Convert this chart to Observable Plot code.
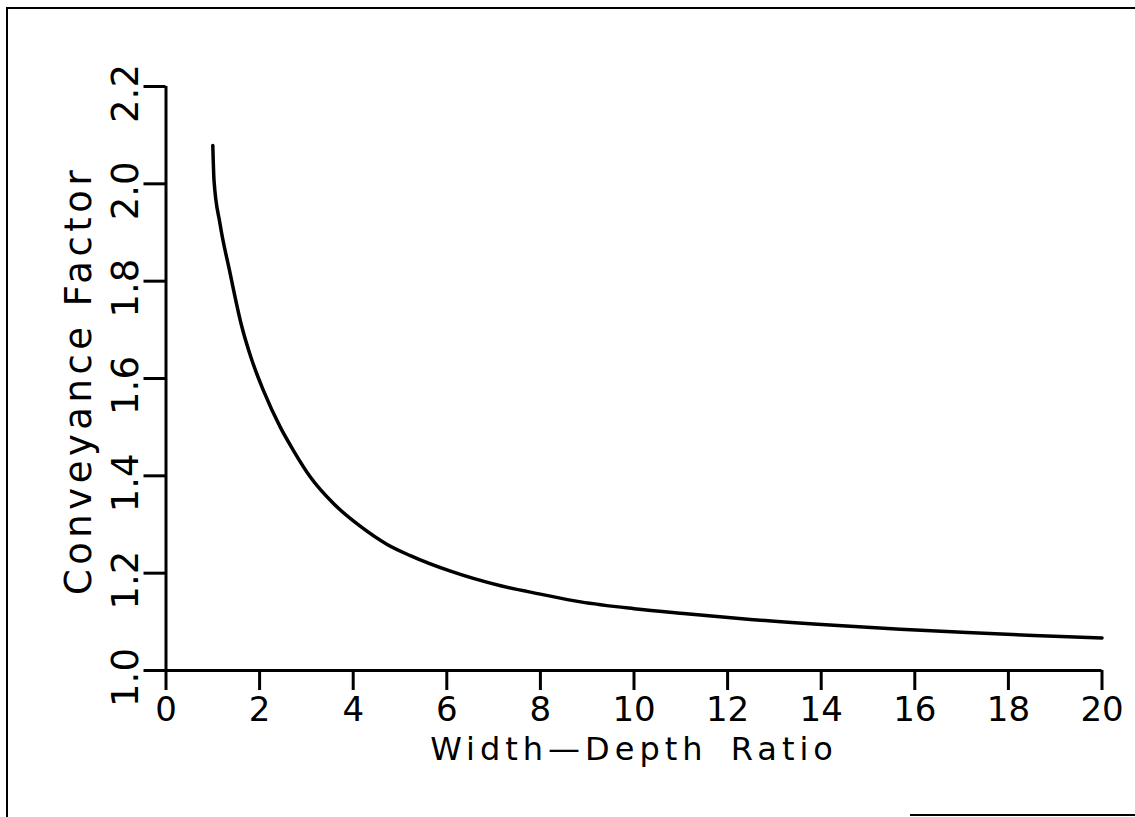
<!DOCTYPE html>
<html>
<head>
<meta charset="utf-8">
<script src="https://cdn.jsdelivr.net/npm/d3@7"></script>
<script src="https://cdn.jsdelivr.net/npm/@observablehq/plot@0.6"></script>
<style>
  html, body { margin: 0; padding: 0; background: #fff; }
  #wrap { position: relative; width: 1135px; height: 817px; overflow: hidden; }
  #wrap svg { position: absolute; left: 0; top: 0; }
  .frame { position: absolute; background: #000; pointer-events: none; }
</style>
</head>
<body>
<div id="wrap">
  <div class="frame" style="left:6px; top:7px; width:1129px; height:2px;"></div>
  <div class="frame" style="left:6px; top:7px; width:2px; height:810px;"></div>
  <div class="frame" style="left:910px; top:814px; width:225px; height:2px;"></div>
</div>
<script>
// Curve
const ratio  = [1.0, 1.026, 1.154, 1.357, 1.603, 1.816, 2.083, 2.447, 2.724, 3.088, 3.579, 4.156, 4.726, 5.22, 6.08, 7.15, 8.0, 8.86, 10.0, 11.06, 12.49, 14.27, 15.69, 17.12, 18.54, 20.0];
const factor = [2.079, 2.007, 1.918, 1.822, 1.713, 1.643, 1.575, 1.499, 1.452, 1.397, 1.343, 1.296, 1.259, 1.236, 1.204, 1.174, 1.157, 1.141, 1.127, 1.117, 1.105, 1.093, 1.085, 1.078, 1.072, 1.067];

const xTicks = [0, 2, 4, 6, 8, 10, 12, 14, 16, 18, 20];
const yTicks = [1.0, 1.2, 1.4, 1.6, 1.8, 2.0, 2.2];
const xTitle = "Width—Depth Ratio";
const yTitle = "Conveyance Factor";

const data = ratio.map((r, i) => ({ratio: r, factor: factor[i]}));

const chart = Plot.plot({
  width: 1135,
  height: 817,
  marginLeft: 165.5,
  marginRight: 33.5,
  marginTop: 86,
  marginBottom: 147,
  style: {fontFamily: "'DejaVu Sans', sans-serif", fontSize: "34px", color: "#000", background: "transparent"},
  x: {domain: [0, 20], axis: null},
  y: {domain: [1, 2.2], axis: null},
  marks: [
    Plot.ruleY([1], {stroke: "#000", strokeWidth: 3}),
    Plot.ruleX([0], {stroke: "#000", strokeWidth: 3}),
    Plot.axisY(yTicks, {tickSize: 22, strokeWidth: 3, fill: "none", label: null}),
    Plot.axisX(xTicks, {tickSize: 20, tickPadding: 6, strokeWidth: 3, fontSize: 34, label: null, tickFormat: d => String(d)}),
    Plot.text(yTicks, {
      y: d => d, text: d => d.toFixed(1),
      frameAnchor: "left", dx: -28, dy: 7,
      rotate: -90, lineAnchor: "bottom", textAnchor: "middle", fontSize: 37, fill: "#000"
    }),
    Plot.text([yTitle], {
      text: d => d, frameAnchor: "left", dx: -75, dy: 2,
      rotate: -90, lineAnchor: "bottom", textAnchor: "middle", fontSize: 37, fill: "#000"
    }),
    Plot.text([xTitle], {
      text: d => d, frameAnchor: "bottom", dy: 89,
      lineAnchor: "bottom", textAnchor: "middle", fontSize: 32, fill: "#000"
    }),
    Plot.line(data, {x: "ratio", y: "factor", stroke: "#000", strokeWidth: 3.5, curve: "monotone-x"})
  ]
});

document.getElementById("wrap").appendChild(chart);

d3.select(chart).selectAll("text").each(function() {
  const t = this.textContent;
  if (t === yTitle) d3.select(this).style("letter-spacing", "4.5px");
  if (t === xTitle) d3.select(this).style("letter-spacing", "5px").style("word-spacing", "8px");
});
</script>
</body>
</html>
